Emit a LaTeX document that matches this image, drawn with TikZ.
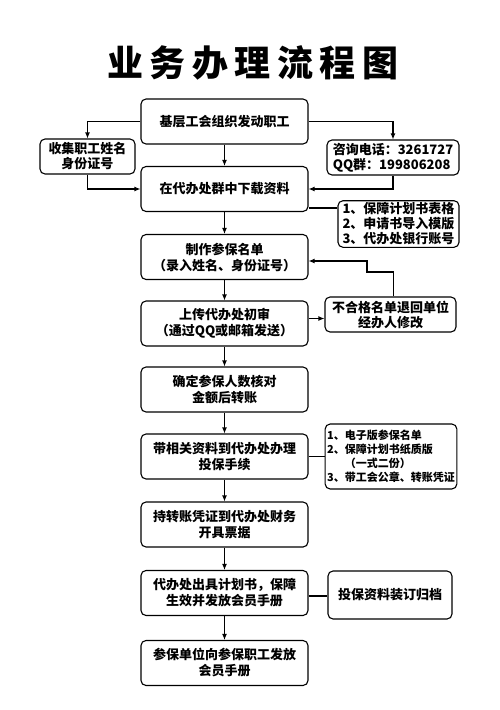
\documentclass[tikz,border=0pt]{standalone}
\usepackage{fontspec}
\newfontfamily\cjk{Noto Sans CJK SC}
\usepackage{tikz}
\usetikzlibrary{arrows.meta,positioning}

\begin{document}
\begin{tikzpicture}[x=1pt, y=-1pt,
    box/.style={draw, rounded corners=5pt, line width=1.1pt, minimum width=167pt, minimum height=45pt,
        align=center, inner sep=2pt, font=\cjk\bfseries\fontsize{13}{16}\selectfont},
    sidebox/.style={draw, rounded corners=5pt, line width=1.1pt, inner sep=2pt,
        font=\cjk\bfseries\fontsize{13}{15}\selectfont},
    arr/.style={-{Latex[length=6pt,width=5pt]}, line width=1.1pt},
    link/.style={line width=1.1pt}]
    \useasboundingbox (0,0) rectangle (500,710);

    % Title
    \node[font=\cjk\bfseries\fontsize{36}{40}\selectfont] (title) at (253,63)
        {业\hspace{6.5pt}务\hspace{6.5pt}办\hspace{6.5pt}理\hspace{6.5pt}流\hspace{6.5pt}程\hspace{6.5pt}图};

    % Main column
    \node[box] (b1) at (224.5,121.5) {基层工会组织发动职工};
    \node[box] (b2) at (224.5,189) {在代办处群中下载资料};
    \node[box] (b3) at (224.5,257) {制作参保名单\\（录入姓名、身份证号）};
    \node[box] (b4) at (224.5,323.5) {上传代办处初审\\（通过QQ或邮箱发送）};
    \node[box] (b5) at (224.5,389.5) {确定参保人数核对\\金额后转账};
    \node[box] (b6) at (224.5,456.5) {带相关资料到代办处办理\\投保手续};
    \node[box] (b7) at (224.5,524.5) {持转账凭证到代办处财务\\开具票据};
    \node[box] (b8) at (224.5,593) {代办处出具计划书，保障\\生效并发放会员手册};
    \node[box] (b9) at (224.5,663) {参保单位向参保职工发放\\会员手册};

    % Side boxes
    \node[sidebox, align=center, minimum width=95pt, minimum height=35pt] (collect) at (87.5,156.5)
        {收集职工姓名\\身份证号};
    \node[sidebox, align=left, minimum width=132pt, minimum height=35pt] (phone) at (393,157.5)
        {咨询电话：3261727\\QQ群：199806208};
    \node[sidebox, align=left, minimum width=121pt, minimum height=46pt] (files) at (398.5,224)
        {1、保障计划书表格\\2、申请书导入模版\\3、代办处银行账号};
    \node[sidebox, align=center, minimum width=131pt, minimum height=35pt] (reject) at (390.5,314.5)
        {不合格名单退回单位\\经办人修改};
    \node[sidebox, align=left, minimum width=126pt, minimum height=65pt,
        font=\cjk\bfseries\fontsize{11}{14}\selectfont] (bring) at (391,456.5)
        {1、电子版参保名单\\2、保障计划书纸质版\\\hspace{1.6em}（一式二份）\\3、带工会公章、转账凭证};
    \node[sidebox, align=center, minimum width=124pt, minimum height=48pt] (archive) at (390,595)
        {投保资料装订归档};

    % Arrows down the main column
    \foreach \a/\b in {b1/b2, b2/b3, b3/b4, b4/b5, b5/b6, b6/b7, b7/b8, b8/b9}
        \draw[arr] (\a) -- (\b);

    % Branches at the top
    \draw[arr] (b1.west) -| (collect.north);
    \draw[arr] (b1.east) -| (phone.north);
    \draw[arr] (collect.south) |- (b2.west);
    \draw[arr] (phone.south) |- (b2.east);
    \draw[link] ([yshift=-19pt]b2.east) -- ([yshift=-19pt]b2.east -| files.west);

    % Check and send back
    \draw[arr] ([yshift=5pt]b4.east) -- ([yshift=5pt]b4.east -| reject.west);
    \coordinate (k1) at (367,272);
    \coordinate (k2) at (367,261);
    \draw[arr] ([xshift=3pt]reject.north) |- (k1) -- (k2) -- (k2 -| b3.east);

    % Notes
    \draw[link] (b6.east) -- (bring.west);
    \draw[link] ([yshift=-3pt]b8.east) -- ([yshift=-3pt]b8.east -| archive.west);
\end{tikzpicture}
\end{document}
